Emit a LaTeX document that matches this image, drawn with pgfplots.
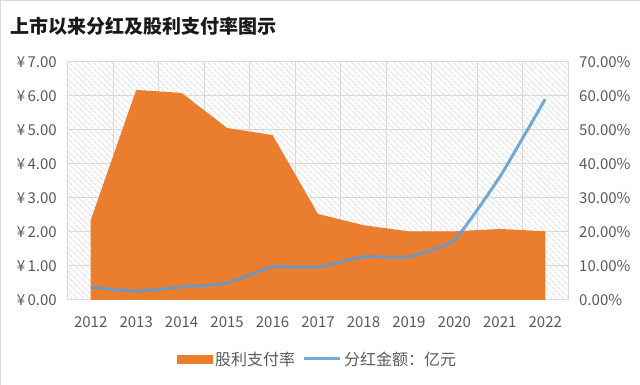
\documentclass[border=0pt]{standalone}
\usepackage{fontspec}
\setmainfont{Noto Sans CJK SC}
\newfontfamily\cjk{Noto Sans CJK SC}
\usepackage{pgfplots}
\pgfplotsset{compat=1.18}
\usetikzlibrary{patterns.meta}
\definecolor{orng}{HTML}{EB7D2F}
\definecolor{blu}{HTML}{5B9BD5}
\definecolor{txt}{HTML}{595959}
\definecolor{grd}{HTML}{D9D9D9}
\definecolor{hatch}{HTML}{DEDEDE}
\begin{document}
\begin{tikzpicture}
\path[use as bounding box] (-68pt,-85pt) rectangle (572pt,300pt);
\draw[grd, line width=1pt] (-67.5pt,-85pt) -- (-67.5pt,299.5pt) -- (572pt,299.5pt);
\node[anchor=west, font=\fontsize{19pt}{21pt}\selectfont\bfseries, text=black!90, inner sep=0pt] at (-58pt,274pt) {上市以来分红及股利支付率图示};
% right axis: payout ratio (%)
\begin{axis}[
  scale only axis, width=500pt, height=238pt, at={(0,0)}, anchor=south west,
  xmin=-0.5, xmax=10.5, ymin=0, ymax=70,
  xtick={0,...,10}, xticklabels={2012,2013,2014,2015,2016,2017,2018,2019,2020,2021,2022},
  minor xtick={0.5,1.5,...,9.5},
  ytick={0,10,...,70},
  yticklabels={0.00\%,10.00\%,20.00\%,30.00\%,40.00\%,50.00\%,60.00\%,70.00\%},
  yticklabel pos=right,
  major tick length=0pt, minor tick length=0pt,
  ymajorgrids, xminorgrids,
  grid style={grd, line width=1pt},
  minor grid style={grd, line width=1pt},
  axis line style={grd, line width=1pt},
  axis background/.style={pattern={Lines[angle=-45, distance=4pt, line width=0.7pt]}, pattern color=hatch},
  yticklabel style={font=\fontsize{15pt}{17pt}\selectfont, text=txt, inner sep=0pt, anchor=west, xshift=11pt},
  xticklabel style={font=\fontsize{15pt}{17pt}\selectfont, text=txt, inner sep=0pt, anchor=center, yshift=-22pt},
]
\addplot[fill=orng, draw=none] coordinates {
(0,23.5) (1,61.8) (2,60.9) (3,50.6) (4,48.5) (5,25.3) (6,22.0) (7,20.2) (8,20.2) (9,20.9) (10,20.2)
} \closedcycle;
\end{axis}
% left axis: dividend amount (yuan 100m)
\begin{axis}[
  scale only axis, width=500pt, height=238pt, at={(0,0)}, anchor=south west,
  xmin=-0.5, xmax=10.5, ymin=0, ymax=7,
  xtick=\empty,
  ytick={0,...,7},
  yticklabels={¥\,0.00,¥\,1.00,¥\,2.00,¥\,3.00,¥\,4.00,¥\,5.00,¥\,6.00,¥\,7.00},
  major tick length=0pt,
  axis line style={draw=none},
  yticklabel style={font=\fontsize{15pt}{17pt}\selectfont, text=txt, inner sep=0pt, anchor=east, xshift=-11pt},
  legend style={at={(0.5,0)}, anchor=center, yshift=-59pt, draw=none, fill=none,
    font=\fontsize{16pt}{18pt}\selectfont, text=txt, legend columns=-1,
    /tikz/every even column/.append style={column sep=4pt},
    nodes={inner sep=3pt}},
]
\addlegendimage{legend image code/.code={\fill[orng] (0pt,-4pt) rectangle (35pt,4pt);}}
\addlegendentry{股利支付率}
\addplot[blu, line width=3pt, opacity=0.85, smooth, tension=0.25,
  legend image code/.code={\draw[blu, line width=3pt] (0pt,0pt) -- (36pt,0pt);}] coordinates {
(0,0.38) (1,0.26) (2,0.38) (3,0.50) (4,0.97) (5,0.97) (6,1.27) (7,1.27) (8,1.76) (9,3.62) (10,5.91)
};
\addlegendentry{分红金额：亿元}
\end{axis}
\end{tikzpicture}
\end{document}
